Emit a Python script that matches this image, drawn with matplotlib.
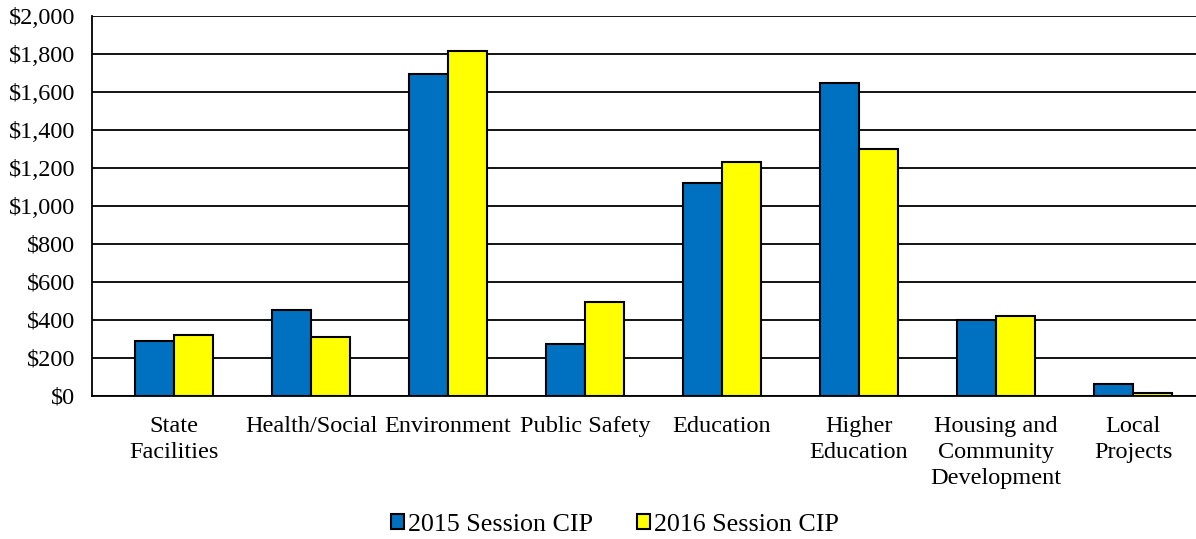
import matplotlib
matplotlib.use("Agg")
import matplotlib.pyplot as plt
import numpy as np

categories = ["State\nFacilities", "Health/Social", "Environment", "Public Safety",
              "Education", "Higher\nEducation", "Housing and\nCommunity\nDevelopment",
              "Local\nProjects"]
cip_2015 = [289, 448, 1695, 270, 1118, 1648, 398, 61]
cip_2016 = [319, 310, 1818, 492, 1229, 1301, 421, 13]
series_names = ["2015 Session CIP", "2016 Session CIP"]
yticks = np.arange(0, 2001, 200)

plt.rcParams['font.family'] = ['Liberation Serif', 'DejaVu Serif']
plt.rcParams['font.size'] = 17.5

fig = plt.figure(figsize=(11.96, 5.39), dpi=100)
ax = fig.add_axes([92 / 1196, 1 - 395.5 / 539, (1196 - 92) / 1196, 379.5 / 539])

x = np.arange(len(categories))
w = 0.285
ax.bar(x - w / 2, cip_2015, w, color='#0070C0', edgecolor='black', linewidth=1.5,
       label=series_names[0], zorder=3)
ax.bar(x + w / 2, cip_2016, w, color='#FFFF00', edgecolor='black', linewidth=1.5,
       label=series_names[1], zorder=3)

ax.set_ylim(0, 2000)
ax.set_xlim(-0.599, (1196 - 174) / 137)
ax.set_yticks(yticks)
ax.set_yticklabels([f"${v:,}" for v in yticks])
ax.yaxis.grid(True, color='black', linewidth=1.3, zorder=0)
ax.set_xticks(x)
ax.set_xticklabels(categories, linespacing=1.3)
ax.tick_params(axis='both', length=0)
ax.tick_params(axis='y', pad=12)
ax.tick_params(axis='x', pad=15)
for s in ['top', 'right']:
    ax.spines[s].set_visible(False)
for s in ['left', 'bottom']:
    ax.spines[s].set_linewidth(1.3)

fig.legend(loc='center', bbox_to_anchor=(615 / 1196, 1 - 525 / 539), ncol=2, frameon=False,
           fontsize=18.7, handlelength=0.5, handleheight=0.5, handletextpad=0.15,
           columnspacing=1.7)

fig.savefig("out.png", dpi=100)
